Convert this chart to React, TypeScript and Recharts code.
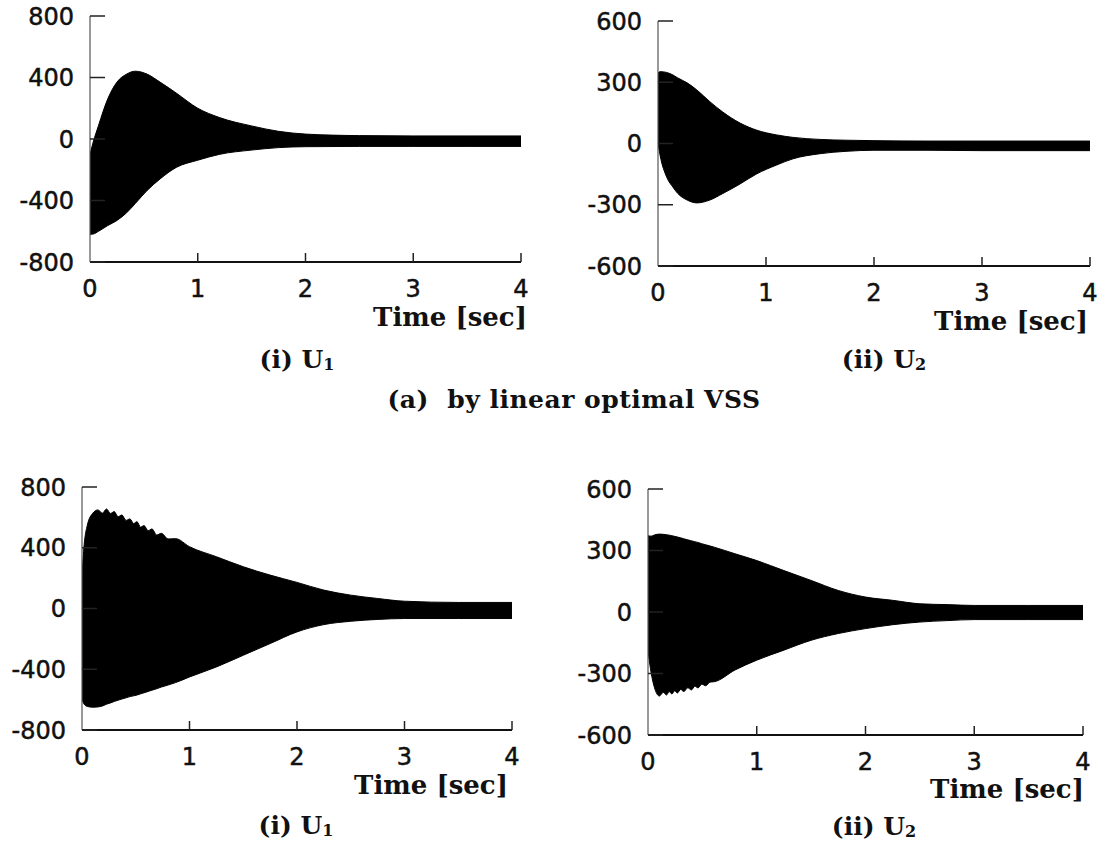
import React from 'react';
import { AreaChart, Area, XAxis, YAxis } from 'recharts';

const xTicks = [0, 1, 2, 3, 4];
const u1Ticks = [-800, -400, 0, 400, 800];
const u2Ticks = [-600, -300, 0, 300, 600];

// (a) linear optimal VSS - U1 envelope
const aU1Time = [0, 0.03, 0.08, 0.16, 0.25, 0.34, 0.42, 0.53, 0.65, 0.8, 1.0, 1.2, 1.5, 1.75, 2.0, 2.5, 3.0, 3.5, 4.0];
const aU1Upper = [-100, -20, 90, 253, 370, 422, 441, 422, 370, 299, 200, 140, 85, 50, 32, 22, 20, 20, 20];
const aU1Lower = [-620, -618, -600, -565, -530, -480, -420, -335, -260, -185, -138, -100, -72, -56, -50, -48, -48, -48, -48];

// (a) linear optimal VSS - U2 envelope
const aU2Time = [0, 0.02, 0.08, 0.14, 0.18, 0.27, 0.36, 0.48, 0.6, 0.76, 0.91, 1.1, 1.25, 1.5, 1.75, 2.0, 2.5, 3.0, 3.5, 4.0];
const aU2Upper = [345, 352, 348, 335, 322, 297, 262, 205, 154, 100, 66, 42, 30, 20, 16, 14, 12, 12, 12, 12];
const aU2Lower = [0, -60, -164, -215, -243, -277, -291, -277, -245, -198, -150, -105, -75, -50, -38, -33, -33, -35, -35, -35];

// second design - U1 envelope (sawtooth on the upper edge)
const bU1Time = [0, 0.02, 0.05, 0.1, 0.147, 0.19, 0.228, 0.265, 0.3, 0.335, 0.371, 0.41, 0.446, 0.48, 0.511, 0.545, 0.577, 0.615, 0.651, 0.695, 0.739, 0.8, 0.87, 1.0, 1.25, 1.5, 1.75, 2.0, 2.25, 2.5, 2.75, 3.0, 3.5, 4.0];
const bU1Upper = [220, 420, 550, 627, 649, 628, 655, 626, 638, 604, 616, 580, 590, 560, 572, 536, 546, 512, 524, 484, 495, 458, 460, 407, 341, 275, 220, 172, 121, 88, 66, 48, 40, 40];
const bU1Lower = [-600, -630, -645, -650, -648, -642, -630, -622, -612, -604, -596, -588, -580, -575, -570, -562, -555, -546, -538, -528, -517, -504, -488, -451, -385, -308, -231, -154, -106, -84, -72, -66, -66, -66];

// second design - U2 envelope (sawtooth on the lower edge)
const bU2Time = [0, 0.03, 0.06, 0.105, 0.14, 0.17, 0.195, 0.22, 0.245, 0.27, 0.3, 0.33, 0.365, 0.4, 0.43, 0.46, 0.495, 0.53, 0.57, 0.61, 0.8, 1.0, 1.25, 1.5, 1.75, 2.0, 2.25, 2.5, 2.75, 3.0, 3.5, 4.0];
const bU2Upper = [372, 370, 376, 380, 379, 377, 375, 372, 369, 366, 362, 357, 352, 347, 343, 339, 333, 328, 322, 316, 284, 251, 202, 154, 105, 73, 57, 40, 36, 32, 32, 32];
const bU2Lower = [-190, -300, -370, -410, -392, -405, -388, -400, -384, -395, -378, -388, -370, -380, -362, -370, -352, -360, -342, -340, -283, -235, -186, -138, -105, -81, -62, -49, -42, -37, -37, -37];

const toBand = (time: number[], lower: number[], upper: number[]) =>
  time.map((t, i) => ({ t, band: [lower[i], upper[i]] }));

const YW = 90;
const MT = 30;
const MR = 20;
const XH = 50;
const YGAP = 16;

const tickFont = { fontFamily: 'DejaVu Sans', fontSize: 24, fill: '#111', stroke: '#111', strokeWidth: 0.5 };

const YTick = (props: any) => {
  const { x, y, payload } = props;
  return (
    <g>
      <line x1={x + YGAP} x2={x + YGAP + 15} y1={y} y2={y} stroke="#222" strokeWidth={1.5} />
      <text x={x} y={y} dy={8.5} textAnchor="end" {...tickFont}>
        {payload.value}
      </text>
    </g>
  );
};

const XTick = (props: any) => {
  const { x, y, payload } = props;
  return (
    <g>
      {payload.value !== 0 && <line x1={x} x2={x} y1={y} y2={y - 9} stroke="#222" strokeWidth={1.5} />}
      <text x={x} y={y + 35} textAnchor="middle" {...tickFont}>
        {payload.value}
      </text>
    </g>
  );
};

interface PanelProps {
  data: { t: number; band: number[] }[];
  ticks: number[];
  plot: [number, number, number, number];
}

const Panel: React.FC<PanelProps> = ({ data, ticks, plot }) => {
  const [l, t, r, b] = plot;
  const w = YW + (r - l) + MR;
  const h = MT + (b - t) + XH;
  return (
    <div style={{ position: 'absolute', left: l - YW, top: t - MT }}>
      <AreaChart width={w} height={h} data={data} margin={{ top: MT, right: MR, left: 0, bottom: 0 }}>
        <XAxis
          dataKey="t"
          type="number"
          domain={[0, 4]}
          ticks={xTicks}
          interval={0}
          height={XH}
          tickSize={0}
          tickMargin={0}
          tickLine={false}
          tick={(p: any) => <XTick {...p} />}
          axisLine={{ stroke: '#111', strokeWidth: 2 }}
          allowDataOverflow
        />
        <YAxis
          type="number"
          domain={[ticks[0], ticks[ticks.length - 1]]}
          ticks={ticks}
          interval={0}
          width={YW}
          tickSize={0}
          tickMargin={YGAP}
          tickLine={false}
          tick={(p: any) => <YTick {...p} />}
          axisLine={{ stroke: '#555', strokeWidth: 1.2 }}
          allowDataOverflow
        />
        <Area
          type="monotone"
          dataKey="band"
          stroke="#000"
          strokeWidth={1}
          fill="#000"
          fillOpacity={1}
          dot={false}
          activeDot={false}
          isAnimationActive={false}
        />
      </AreaChart>
    </div>
  );
};

const serif: React.CSSProperties = {
  position: 'absolute',
  fontFamily: '"DejaVu Serif", serif',
  fontWeight: 'bold',
  color: '#111',
  lineHeight: '24px',
  whiteSpace: 'nowrap',
};

const timeLabel = (right: number, top: number) => (
  <div style={{ ...serif, fontSize: 26, left: right - 300, width: 300, textAlign: 'right', top }}>Time [sec]</div>
);

const subLabel = (center: number, top: number, roman: string, idx: string) => (
  <div style={{ ...serif, fontSize: 25, left: center - 100, width: 200, textAlign: 'center', top }}>
    ({roman}) U<span style={{ fontSize: 16, position: 'relative', top: 2 }}>{idx}</span>
  </div>
);

export default function App() {
  return (
    <div style={{ position: 'relative', width: 1107, height: 844, background: '#fff', overflow: 'hidden' }}>
      <style>{`body{margin:0}`}</style>
      <Panel data={toBand(aU1Time, aU1Lower, aU1Upper)} ticks={u1Ticks} plot={[90, 16, 521, 262]} />
      <Panel data={toBand(aU2Time, aU2Lower, aU2Upper)} ticks={u2Ticks} plot={[658, 21, 1090, 266]} />
      <Panel data={toBand(bU1Time, bU1Lower, bU1Upper)} ticks={u1Ticks} plot={[82, 487, 512, 730]} />
      <Panel data={toBand(bU2Time, bU2Lower, bU2Upper)} ticks={u2Ticks} plot={[648, 489, 1083, 735]} />
      {timeLabel(527, 305)}
      {timeLabel(1088, 309)}
      {timeLabel(508, 773)}
      {timeLabel(1084, 777)}
      {subLabel(297, 348, 'i', '1')}
      {subLabel(884, 348, 'ii', '2')}
      {subLabel(296, 814, 'i', '1')}
      {subLabel(874, 815, 'ii', '2')}
      <div style={{ ...serif, fontSize: 25, letterSpacing: 0.5, left: 274, width: 600, textAlign: 'center', top: 388 }}>
        (a)&nbsp; by linear optimal VSS
      </div>
    </div>
  );
}
